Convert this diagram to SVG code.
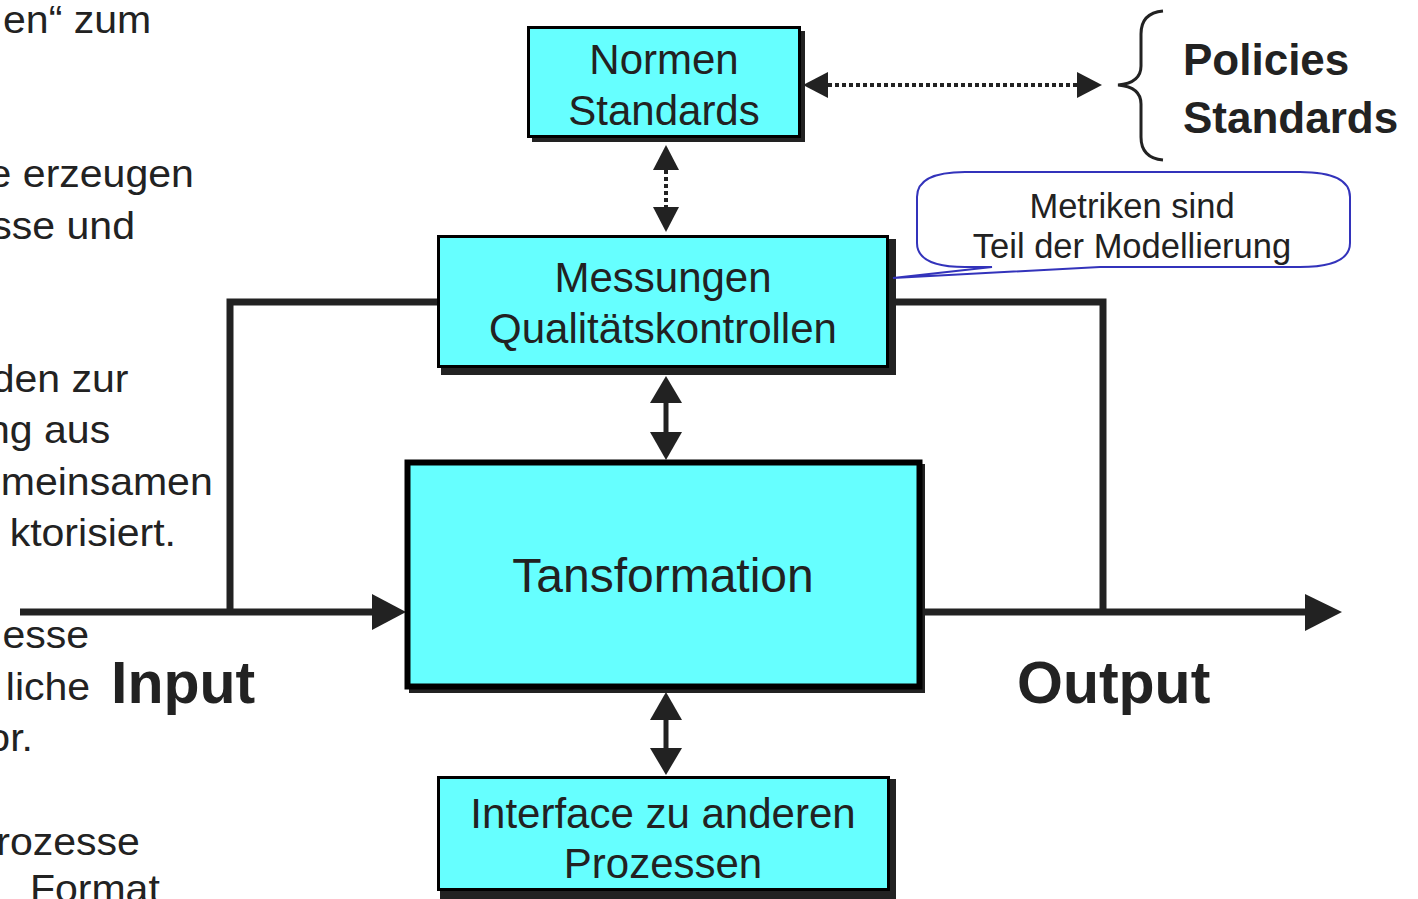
<svg xmlns="http://www.w3.org/2000/svg" width="1418" height="899" viewBox="0 0 1418 899">
<style>
.bg{fill:#fff}
.box{fill:#66FFFF;stroke:#000}
.sh{fill:#222}
.t{font-family:"Liberation Sans",Arial,sans-serif;fill:#222;text-anchor:middle}
.side{font-family:"Liberation Sans",Arial,sans-serif;fill:#222;font-size:38px;text-anchor:end}
.big{font-family:"Liberation Sans",Arial,sans-serif;fill:#222;font-weight:bold}
.ln{stroke:#222;stroke-width:7;fill:none}
.dot{stroke:#222;stroke-width:4;fill:none;stroke-dasharray:4 3}
.head{fill:#222}
</style>
<rect class="bg" x="0" y="0" width="1418" height="899"/>

<g id="side-text" transform="scale(1.08,1)">
<text class="side" x="140" y="33">en“ zum</text>
<text class="side" x="179.5" y="187">e erzeugen</text>
<text class="side" x="125" y="239">sse und</text>
<text class="side" x="119" y="392">den zur</text>
<text class="side" x="102" y="443">ng aus</text>
<text class="side" x="197" y="495">meinsamen</text>
<text class="side" x="163" y="546">ktorisiert.</text>
<text class="side" x="82.5" y="648">esse</text>
<text class="side" x="83.5" y="700">liche</text>
<text class="side" x="30.5" y="751">or.</text>
<text class="side" x="129.5" y="855">rozesse</text>
<text class="side" x="148" y="902">Format</text>
</g>

<g id="connectors">
<polyline class="ln" points="437,302 230,302 230,612"/>
<line class="ln" x1="20" y1="612" x2="378" y2="612"/>
<polygon class="head" points="372,594 406,612 372,630"/>
<polyline class="ln" points="893,302 1103,302 1103,612"/>
<line class="ln" x1="922" y1="612" x2="1310" y2="612"/>
<polygon class="head" points="1305,594 1342,612 1305,631"/>
<line class="dot" x1="666" y1="170" x2="666" y2="208"/>
<polygon class="head" points="666,145 653,170 679,170"/>
<polygon class="head" points="666,232 653,207 679,207"/>
<line class="dot" x1="828" y1="85" x2="1078" y2="85"/>
<polygon class="head" points="803,85 828,72 828,98"/>
<polygon class="head" points="1102,85 1077,72 1077,98"/>
<line class="ln" style="stroke-width:5" x1="666" y1="400" x2="666" y2="435"/>
<polygon class="head" points="666,376 650,403 682,403"/>
<polygon class="head" points="666,460 650,432 682,432"/>
<line class="ln" style="stroke-width:5" x1="666" y1="716" x2="666" y2="752"/>
<polygon class="head" points="666,692 650,720 682,720"/>
<polygon class="head" points="666,775 650,748 682,748"/>
<path d="M1163,11 Q1141,13 1141,34 V66 Q1141,83 1118,85 Q1141,87 1141,104 V137 Q1141,158 1163,160" fill="none" stroke="#222" stroke-width="3"/>
</g>

<g id="normen">
<rect class="sh" x="532" y="31" width="273" height="111"/>
<rect class="box" x="528.5" y="27.5" width="271" height="109" stroke-width="3"/>
<text class="t" x="664" y="74" font-size="42">Normen</text>
<text class="t" x="664" y="125" font-size="42">Standards</text>
</g>

<g id="messungen">
<rect class="sh" x="441" y="239" width="455" height="136"/>
<rect class="box" x="438.5" y="236.5" width="449" height="130" stroke-width="3"/>
<text class="t" x="663" y="292" font-size="42">Messungen</text>
<text class="t" x="663" y="343" font-size="42">Qualitätskontrollen</text>
</g>

<g id="transformation">
<rect class="sh" x="409" y="464" width="516" height="229"/>
<rect class="box" x="407.5" y="462.5" width="512" height="224" stroke-width="6"/>
<text class="t" x="663" y="592" font-size="48">Tansformation</text>
</g>

<g id="interface">
<rect class="sh" x="440" y="779" width="456" height="122"/>
<rect class="box" x="438.5" y="777.5" width="450" height="112" stroke-width="3"/>
<text class="t" x="663" y="828" font-size="42">Interface zu anderen</text>
<text class="t" x="663" y="878" font-size="42">Prozessen</text>
</g>

<g id="policies">
<text class="big" x="1183" y="75" font-size="44">Policies</text>
<text class="big" x="1183" y="133" font-size="44">Standards</text>
</g>

<g id="io-labels">
<text class="big" x="111" y="703" font-size="59">Input</text>
<text class="big" x="1017" y="703" font-size="59">Output</text>
</g>

<g id="callout">
<path d="M965,172 H1300 Q1350,172 1350,197 V243 Q1350,267 1300,267 H1100 L893,278 L992,267 H965 Q917,267 917,243 V197 Q917,172 965,172 Z" fill="#fff" stroke="#3333BB" stroke-width="2"/>
<text class="t" x="1132" y="218" font-size="34.5">Metriken sind</text>
<text class="t" x="1132" y="258" font-size="34.5">Teil der Modellierung</text>
</g>
</svg>
